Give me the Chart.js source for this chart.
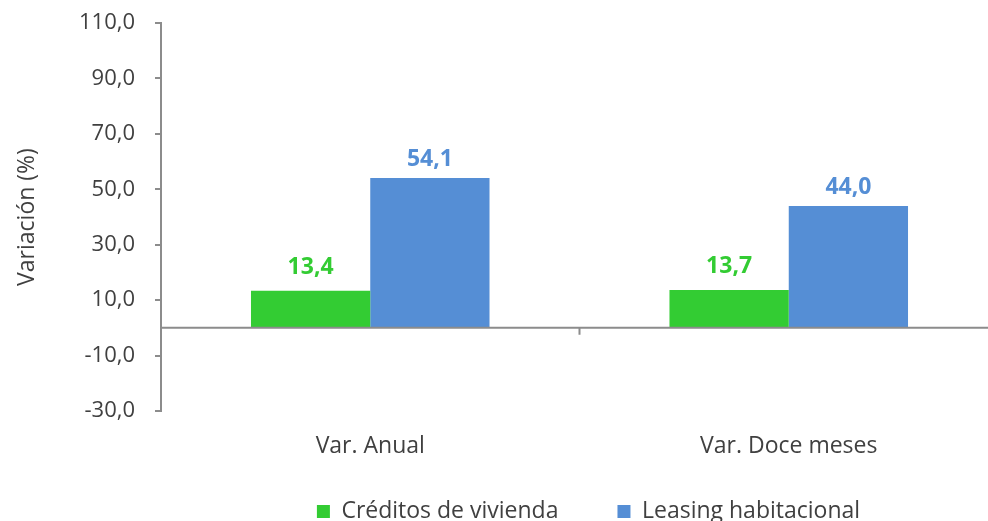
<!DOCTYPE html>
<html lang="es">
<head>
    <meta charset="UTF-8">
    <title>Variación créditos de vivienda y leasing habitacional</title>
    <style>
        body {
            margin: 0;
            background-color: #fff;
            overflow: hidden;
        }
        .chart-container {
            position: relative;
            width: 998px;
            height: 521px;
        }
    </style>
    <script src="https://cdn.jsdelivr.net/npm/chart.js"></script>
</head>
<body>
    <div class="chart-container">
        <canvas id="grafico"></canvas>
    </div>

    <script>
        // Datos del gráfico
        const categorias = ['Var. Anual', 'Var. Doce meses'];
        const creditosVivienda = [13.4, 13.7];
        const leasingHabitacional = [54.1, 44.0];
        const series = ['Créditos de vivienda', 'Leasing habitacional'];

        const verde = '#33cc33';
        const azul = '#558ed5';
        const gris = '#8c8c8c';
        const texto = '#404040';
        const fuente = "'Open Sans', sans-serif";

        function formato(v) {
            return v.toFixed(1).replace('.', ',');
        }

        // Línea del cero y marca entre categorías
        const lineaCero = {
            id: 'lineaCero',
            afterDatasetsDraw(chart) {
                const ctx = chart.ctx;
                const y = chart.scales.y.getPixelForValue(0);
                const x = chart.scales.x;
                const area = chart.chartArea;
                ctx.save();
                ctx.strokeStyle = gris;
                ctx.lineWidth = 2;
                ctx.beginPath();
                ctx.moveTo(area.left, y);
                ctx.lineTo(area.right, y);
                const medio = (x.getPixelForValue(0) + x.getPixelForValue(1)) / 2;
                ctx.moveTo(medio, y);
                ctx.lineTo(medio, y + 7);
                ctx.stroke();
                ctx.restore();
            }
        };

        // Etiquetas de valores sobre las barras
        const separacion = [17, 12]; // distancia etiqueta-barra por serie
        const etiquetas = {
            id: 'etiquetas',
            afterDatasetsDraw(chart) {
                const ctx = chart.ctx;
                ctx.save();
                ctx.font = 'bold 23px ' + fuente;
                ctx.textAlign = 'center';
                ctx.textBaseline = 'alphabetic';
                chart.data.datasets.forEach((ds, i) => {
                    const meta = chart.getDatasetMeta(i);
                    ctx.fillStyle = ds.backgroundColor;
                    meta.data.forEach((bar, j) => {
                        ctx.fillText(formato(ds.data[j]), bar.x, bar.y - separacion[i]);
                    });
                });
                ctx.restore();
            }
        };

        // Leyenda: altura fija y pequeño desplazamiento (el padding sólo separa los elementos)
        const altoLeyenda = {
            id: 'altoLeyenda',
            beforeInit(chart) {
                const leyenda = chart.legend;
                if (!leyenda) return;
                const fitOriginal = leyenda.fit.bind(leyenda);
                leyenda.fit = function() {
                    fitOriginal();
                    this.height = 80;
                    this.minSize && (this.minSize.height = 80);
                };
                const drawOriginal = leyenda.draw.bind(leyenda);
                leyenda.draw = function() {
                    const c = this.ctx;
                    c.save();
                    c.translate(9, 0);
                    drawOriginal();
                    c.restore();
                };
            }
        };

        new Chart(document.getElementById('grafico').getContext('2d'), {
            type: 'bar',
            data: {
                labels: categorias,
                datasets: [{
                    label: series[0],
                    data: creditosVivienda,
                    backgroundColor: verde,
                    categoryPercentage: 0.57,
                    barPercentage: 1
                }, {
                    label: series[1],
                    data: leasingHabitacional,
                    backgroundColor: azul,
                    categoryPercentage: 0.57,
                    barPercentage: 1
                }]
            },
            options: {
                responsive: true,
                maintainAspectRatio: false,
                animation: false,
                layout: {
                    padding: { top: 23, left: 0, right: 0, bottom: 0 }
                },
                scales: {
                    x: {
                        grid: { display: false, drawTicks: false },
                        border: { display: false },
                        ticks: {
                            color: texto,
                            font: { family: fuente, size: 23 },
                            padding: 22
                        },
                        afterFit(scale) {
                            scale.height = 30;
                            // sin recorte de las etiquetas al alto del eje
                            scale._computeLabelArea = () => undefined;
                        }
                    },
                    y: {
                        min: -30,
                        max: 110,
                        ticks: {
                            stepSize: 20,
                            color: texto,
                            font: { family: fuente, size: 22 },
                            padding: 20,
                            callback: v => formato(v)
                        },
                        grid: {
                            drawOnChartArea: false,
                            drawTicks: true,
                            tickLength: 6,
                            color: gris,
                            lineWidth: 2
                        },
                        border: { color: gris, width: 2 },
                        title: {
                            display: true,
                            text: 'Variación (%)',
                            color: texto,
                            font: { family: fuente, size: 23 },
                            padding: { top: 14, bottom: 0 }
                        },
                        afterFit(scale) {
                            scale.width = 161;
                            scale.paddingTop = 0;
                            scale.paddingBottom = 0;
                        }
                    }
                },
                plugins: {
                    legend: {
                        position: 'bottom',
                        fullSize: false,
                        labels: {
                            color: texto,
                            font: { family: fuente, size: 23 },
                            boxWidth: 13,
                            boxHeight: 13,
                            padding: 59
                        }
                    },
                    tooltip: { enabled: false }
                }
            },
            plugins: [lineaCero, etiquetas, altoLeyenda]
        });
    </script>
</body>
</html>
